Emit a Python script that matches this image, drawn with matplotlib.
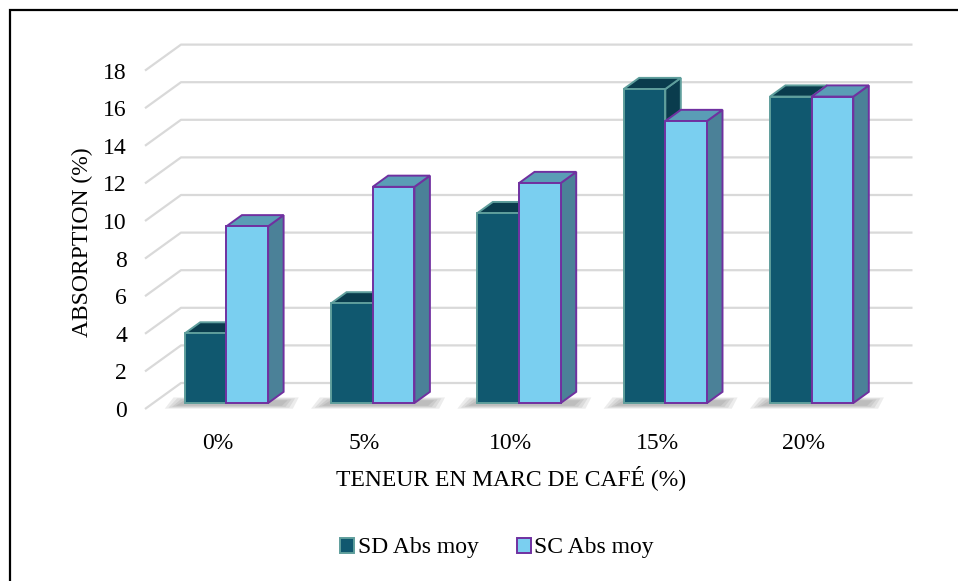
#!/usr/bin/env python3
import matplotlib
matplotlib.use("Agg")
import matplotlib.pyplot as plt
from matplotlib.patches import Polygon, Patch, Rectangle

# water absorption vs coffee-ground content
categories = ["0%", "5%", "10%", "15%", "20%"]
sd_abs = [3.7, 5.3, 10.1, 16.7, 16.3]
sc_abs = [9.4, 11.5, 11.7, 15.0, 16.3]
series_names = ["SD Abs moy", "SC Abs moy"]
y_ticks = list(range(0, 19, 2))

W, H = 958, 581
PX_X = 146.3  # px per category
PX_Y = 18.8   # px per unit of absorption
DEPTH_PX = (36, 26)  # floor depth, front wall -> back wall
DDX = DEPTH_PX[0] / PX_X
DDY = DEPTH_PX[1] / PX_Y
BAR_F0 = 0.23    # depth of bar front face
BAR_FD = 0.43    # bar depth as fraction of floor depth
BAR_W = 0.285

GRID = "#d9d9d9"
STYLE = {
    "sd": dict(front="#10586f", top="#0a3c4d", side="#0a3c4d", edge="#5f9e9c"),
    "sc": dict(front="#7acff0", top="#5a9db6", side="#4b8198", edge="#7030a0"),
}

plt.rcParams["font.family"] = ["Liberation Serif", "DejaVu Serif"]
plt.rcParams["font.size"] = 17

fig = plt.figure(figsize=(W / 100, H / 100), dpi=100)
left, top_y, bot_y = 145, 44.6, 409
ax = fig.add_axes([left / W, (H - bot_y) / H,
                   (5 + DDX) * PX_X / W, (bot_y - top_y) / H])
ax.set_xlim(-0.5, 4.5 + DDX)
ax.set_ylim(0, 18 + DDY)
for s in ax.spines.values():
    s.set_visible(False)


def box3d(x0, w, h, st, z):
    ox, oy = BAR_F0 * DDX, BAR_F0 * DDY
    dx, dy = BAR_FD * DDX, BAR_FD * DDY
    xl, xr = x0 + ox, x0 + w + ox
    front = [(xl, oy), (xr, oy), (xr, oy + h), (xl, oy + h)]
    top = [(xl, oy + h), (xr, oy + h), (xr + dx, oy + h + dy), (xl + dx, oy + h + dy)]
    side = [(xr, oy), (xr + dx, oy + dy), (xr + dx, oy + h + dy), (xr, oy + h)]
    for pts, key in ((side, "side"), (top, "top"), (front, "front")):
        ax.add_patch(Polygon(pts, closed=True, facecolor=st[key],
                             edgecolor=st["edge"], lw=1.4, joinstyle="miter",
                             zorder=z))


# back wall gridlines with the slanted floor/side part
for v in y_ticks:
    ax.plot([-0.5, -0.5 + DDX, 4.5 + DDX], [v, v + DDY, v + DDY],
            color=GRID, lw=1.6, zorder=0, clip_on=False,
            solid_capstyle="butt")

for i in range(len(categories)):
    # soft floor shadow under each pair, darker towards the middle
    base = BAR_F0 * DDY
    for k in range(4):
        g = 0.03 * (3 - k)
        xs = i - BAR_W - 0.08 + 0.025 * k
        xe = i + BAR_W + BAR_FD * DDX + 0.12 - 0.025 * k
        y0 = base - 0.3 + 0.05 * k
        y1 = base + BAR_FD * DDY * 0.5 - 0.05 * k
        ax.add_patch(Polygon([(xs, y0), (xe, y0), (xe + 0.04, y1), (xs + 0.06, y1)],
                             closed=True, facecolor="#303030", edgecolor="none",
                             alpha=0.09 + g * 0.0, zorder=1, clip_on=False))
    box3d(i - BAR_W, BAR_W, sd_abs[i], STYLE["sd"], 2 + 2 * i)
    box3d(i, BAR_W, sc_abs[i], STYLE["sc"], 3 + 2 * i)

ax.set_yticks(y_ticks)
ax.set_xticks(range(len(categories)))
ax.set_xticklabels(categories)
ax.tick_params(axis="y", length=0, pad=13)
ax.tick_params(axis="x", length=0, pad=17)

ax.set_ylabel("ABSORPTION (%)", va="center")
ax.yaxis.set_label_coords(-0.082, 0.458)
ax.set_xlabel("TENEUR EN MARC DE CAFÉ (%)", va="center")
ax.xaxis.set_label_coords(0.477, -0.187)

handles = [Patch(facecolor=STYLE[k]["front"], edgecolor=STYLE[k]["edge"], lw=1.4)
           for k in ("sd", "sc")]
fig.legend(handles, series_names, loc="center", ncol=2, frameon=False,
           bbox_to_anchor=(497 / W, (H - 548) / H), handlelength=0.6,
           handleheight=0.6, handletextpad=0.15, columnspacing=1.6)

# chart frame
fig.add_artist(Rectangle((9.5 / W, -0.5), 2, 1.5 - 9.5 / H,
                         transform=fig.transFigure, fill=False,
                         edgecolor="black", lw=1.6))

fig.savefig("out.png", dpi=100)
